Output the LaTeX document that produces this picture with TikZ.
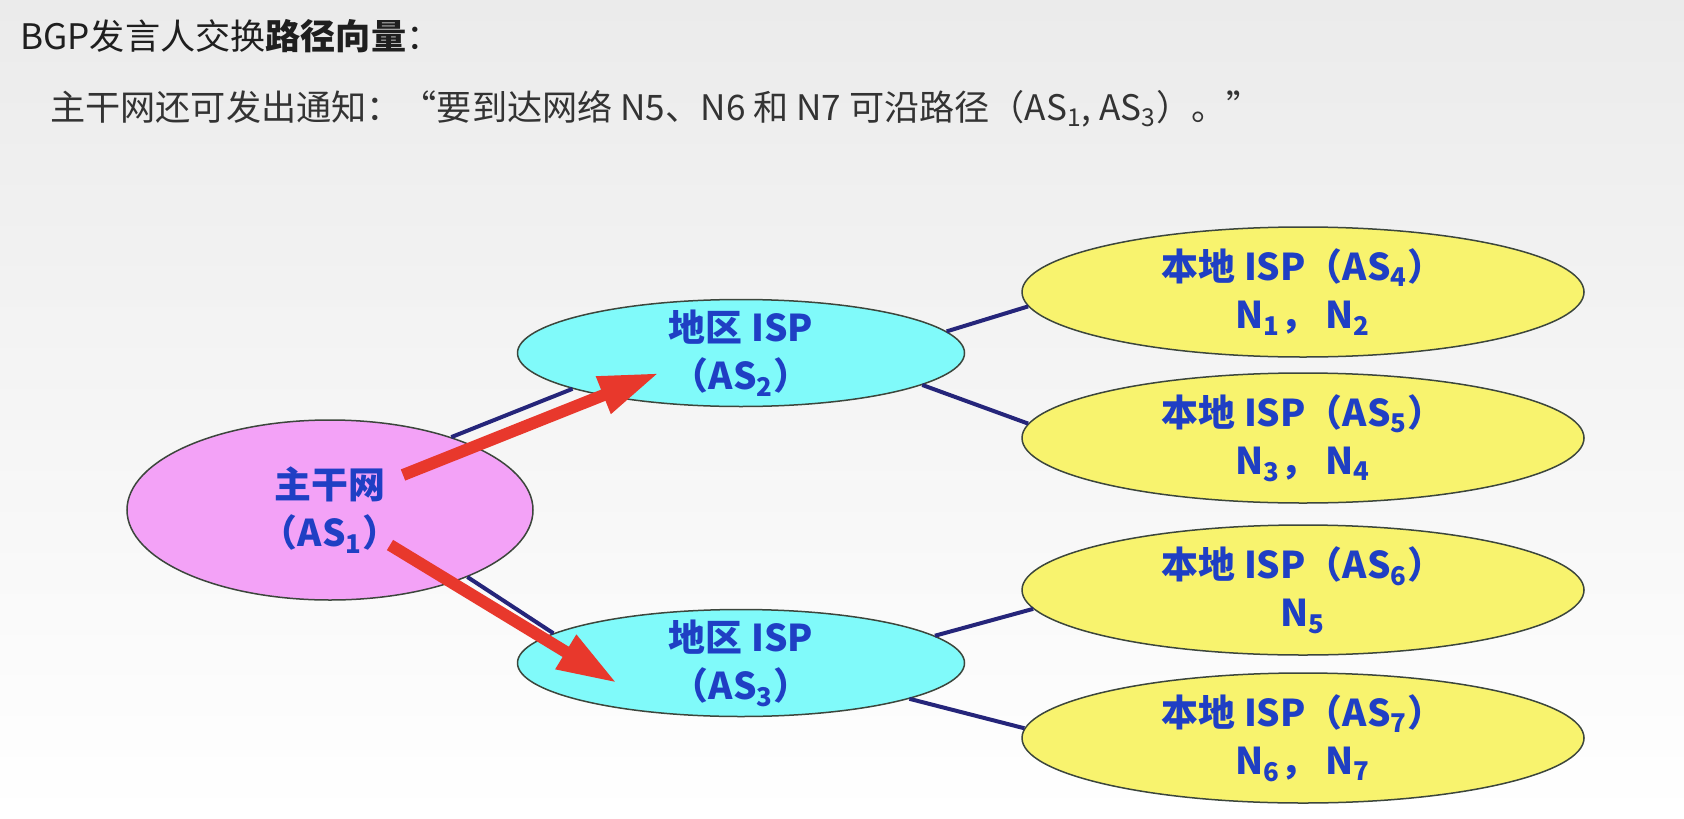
\documentclass[tikz,border=0pt]{standalone}
\usepackage{fontspec}
\setmainfont{Noto Sans CJK SC}
\usetikzlibrary{arrows.meta,shapes.geometric}
\definecolor{bgtop}{HTML}{EBEBEB}
\definecolor{coreviolet}{HTML}{F3A2F7}
\definecolor{regcyan}{HTML}{80FAFA}
\definecolor{locyellow}{HTML}{F8F36E}
\definecolor{asblue}{HTML}{1F3FC4}
\definecolor{linknavy}{HTML}{25257A}
\definecolor{adred}{HTML}{E8382C}
\definecolor{rimgray}{HTML}{3C463C}
\tikzset{
  asnode/.style={ellipse, draw=rimgray, line width=0.3mm, align=center, text=asblue,
    inner xsep=0pt, inner ysep=-3mm, font=\fontsize{21}{27.5}\selectfont\bfseries},
  corenode/.style={asnode, fill=coreviolet, minimum width=81.2mm, minimum height=36mm},
  regnode/.style={asnode, fill=regcyan, minimum width=89.4mm, minimum height=21.4mm},
  locnode/.style={asnode, fill=locyellow, minimum width=112.4mm, minimum height=26mm},
  link/.style={draw=linknavy, line width=0.8mm},
  advert/.style={-{Triangle[length=12mm, width=7.4mm]}, draw=adred, line width=2.4mm},
  headline/.style={anchor=base west, inner sep=0pt, font=\fontsize{20}{24}\selectfont}
}

\begin{document}
\begin{tikzpicture}[x=0.2mm, y=-0.2mm]
  \shade[top color=bgtop, bottom color=white] (0,0) rectangle (1684,818);
  \useasboundingbox (0,0) rectangle (1684,818);

  \node[headline, text=black!88] (title) at (20,50) {BGP发言人交换\textbf{路径向量}：};
  \node[headline, text=black!80] (notice) at (50,121) {主干网还可发出通知：“要到达网络 N5、N6 和 N7 可沿路径（AS\textsubscript{1}, AS\textsubscript{3}）。”};

  \node[corenode] (as1) at (330,510) {主干网\\（AS\textsubscript{1}）};
  \node[regnode] (as2) at (741,353) {地区 ISP\\（AS\textsubscript{2}）};
  \node[regnode] (as3) at (741,663) {地区 ISP\\（AS\textsubscript{3}）};
  \node[locnode] (as4) at (1303,292) {本地 ISP（AS\textsubscript{4}）\\N\textsubscript{1}， N\textsubscript{2}};
  \node[locnode] (as5) at (1303,438) {本地 ISP（AS\textsubscript{5}）\\N\textsubscript{3}， N\textsubscript{4}};
  \node[locnode] (as6) at (1303,590) {本地 ISP（AS\textsubscript{6}）\\N\textsubscript{5}};
  \node[locnode] (as7) at (1303,738) {本地 ISP（AS\textsubscript{7}）\\N\textsubscript{6}， N\textsubscript{7}};

  % links between the systems
  \draw[link] (as1.31) -- (as2.192);
  \draw[link] (as1.334) -- (as3.171);
  \draw[link] (as2.6) -- (as4.183);
  \draw[link] (as2.350) -- (as5.177);
  \draw[link] (as3.8) -- (as6.184);
  \draw[link] (as3.348) -- (as7.178);

  % route announcements
  \coordinate (upfrom) at (403,475);
  \coordinate (upto) at (659,373);
  \coordinate (downfrom) at (390,545);
  \coordinate (downto) at (617,683);
  \draw[advert] (upfrom) -- (upto);
  \draw[advert] (downfrom) -- (downto);
\end{tikzpicture}
\end{document}
